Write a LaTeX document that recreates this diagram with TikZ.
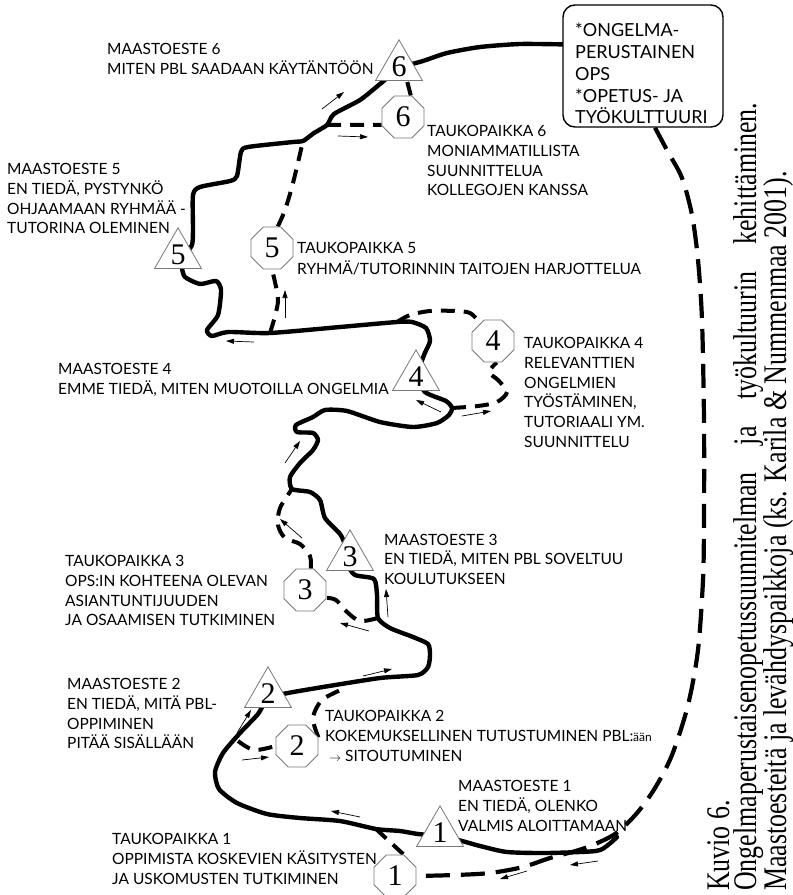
\documentclass[tikz,border=0pt]{standalone}
\usepackage{fontspec}
\setmainfont{Lato}
\newfontfamily\labfont{Lato}
\newfontfamily\capfont[FakeStretch=0.785]{Liberation Serif}
\newfontfamily\numfont{Liberation Serif}
\usetikzlibrary{shapes.geometric,arrows.meta,backgrounds,calc}
\definecolor{signgray}{RGB}{120,120,120}
\newcommand\dirarr[3]{\coordinate (#1s) at #2; \coordinate (#1e) at #3; \draw[arr] (#1s) -- (#1e);}
\begin{document}
\begin{tikzpicture}[x=1pt,y=-1pt,
  tri/.style={regular polygon, regular polygon sides=3, minimum size=54.3pt, inner sep=0pt, draw=signgray, line width=0.8pt, fill=white},
  oct/.style={regular polygon, regular polygon sides=8, minimum size=45.5pt, inner sep=0pt, draw=signgray, line width=0.8pt, fill=white},
  num/.style={font=\numfont\fontsize{30}{30}\selectfont, inner sep=0pt},
  route/.style={line width=4.4pt, line cap=round, line join=round},
  dashroute/.style={line width=4.2pt, dash pattern=on 24pt off 11pt},
  detour/.style={line width=4pt, dash pattern=on 14pt off 9pt},
  arr/.style={line width=0.7pt, -{Triangle[length=8pt,width=5pt]}},
  lab/.style={font=\labfont\fontsize{15.5}{19.8}\selectfont, align=left, anchor=north west, inner sep=0pt},
  capstyle/.style={rotate=90, anchor=base west, inner sep=0pt, font=\capfont\fontsize{33}{33}\selectfont}
]
\useasboundingbox (0,0) rectangle (793,895);

% goal box
\node[draw, line width=1.4pt, rounded corners=12pt, minimum width=160pt, minimum height=122pt, fill=white] (goal) at (643,66) {};
\node[font=\fontsize{18}{21.75}\selectfont, align=left, anchor=north west, inner sep=0pt] (goaltext) at (575,23) {*ONGELMA-\\PERUSTAINEN\\OPS\\*OPETUS- JA\\TYÖKULTTUURI};

% obstacles (triangles)
\node[tri, label={[num]center:6}] (t6) at (399,67) {};
\node[tri, label={[num]center:5}] (t5) at (178,255) {};
\node[tri, label={[num]center:4}] (t4) at (416,377) {};
\node[tri, label={[num]center:3}] (t3) at (350,557) {};
\node[tri, label={[num]center:2}] (t2) at (268,694) {};
\node[tri, label={[num]center:1}] (t1) at (440,833) {};

% rest stops (octagons)
\node[oct, label={[num]center:6}] (o6) at (403,117) {};
\node[oct, label={[num]center:5}] (o5) at (272,248) {};
\node[oct, label={[num]center:4}] (o4) at (493,341) {};
\node[oct, label={[num]center:3}] (o3) at (305,590) {};
\node[oct, label={[num]center:2}] (o2) at (297,746) {};
\node[oct, label={[num]center:1}] (o1) at (395,876) {};

% junctions on the route
\coordinate (start) at (617,837);
\coordinate (j1) at (376,829);
\coordinate (j2a) at (238,741);
\coordinate (j2b) at (343,689);
\coordinate (j3a) at (378,618);
\coordinate (j3b) at (292,489);
\coordinate (j4a) at (452,408);
\coordinate (j4b) at (397,322);
\coordinate (j5a) at (270,333);
\coordinate (j5b) at (303,141);
\coordinate (j6a) at (327,125);

\begin{scope}[on background layer]
% main route
\draw[route] plot[smooth, tension=0.4] coordinates {
 (start) (608,845) (596,851) (547,853) (507,852) (480,846) (462,841) (440,836) (418,834) (400,831) (j1)
 (340,821) (300,818) (267,814) (237,803) (219,789) (215,772) (223,753) (240,733) (258,714) (268,698)
 (288,693) (323,687) (380,678) (418,675) (428,667) (430,655) (428,644) (413,637) (390,628) (j3a)
 (377,595) (374,579) (355,575) (348,565) (345,545) (340,534) (325,518) (320,500) (310,492) (j3b)
 (290,477) (300,463) (313,450) (318,440) (313,433) (297,432) (296,425) (313,417) (325,410) (347,411)
 (380,422) (413,427) (437,423) (449,415) (j4a) (446,401) (425,392) (418,375) (424,355) (430,341)
 (426,328) (412,322) (j4b) (340,327) (j5a) (228,332) (212,336) (207,330) (218,315) (221,290)
 (216,281) (200,284) (185,277) (182,267) (185,255) (192,245) (193,230) (193,195) (200,187) (230,181)
 (237,176) (241,152) (248,147) (293,142) (j5b) (314,133) (j6a) (334,114) (360,100) (380,84)
 (400,68) (423,61) (447,53) (480,47) (520,44) (goal.165)};
% dashed way
\draw[dashroute] plot[smooth, tension=0.5] coordinates {(goal.-79) (668,152) (682,178) (692,215) (698,260) (702,320) (704,420) (704,520) (703,580) (698,650) (688,705) (672,755) (655,788) (637,813) (615,834) (585,848) (550,858) (523,867) (490,873) (455,875) (o1.east)};
% detours to rest stops
\draw[detour] (j1) -- (o1.60);
\draw[detour] plot[smooth] coordinates {(j2a) (254,750) (o2.west)};
\draw[detour] plot[smooth] coordinates {(o2.22) (313,718) (322,700) (j2b)};
\draw[detour] plot[smooth] coordinates {(j3a) (360,621) (347,612) (336,600) (o3.-20)};
\draw[detour] plot[smooth] coordinates {(o3.75) (310,556) (300,544) (285,538) (278,525) (280,508) (j3b)};
\draw[detour] plot[smooth] coordinates {(j4a) (478,406) (497,402) (507,392) (498,380) (489,372) (o4.-80)};
\draw[detour] plot[smooth] coordinates {(j4b) (410,315) (430,311) (455,311) (470,313) (o4.125)};
\draw[detour] plot[smooth] coordinates {(j5a) (275,316) (278,298) (o5.south)};
\draw[detour] plot[smooth] coordinates {(o5.75) (285,210) (293,183) (j5b)};
\draw[detour] (j6a) -- (o6.200);
\draw[detour] (o6.70) -- (t6.-60);
\end{scope}

% direction arrows
\dirarr{a1}{(322,109)}{(344,92)}
\dirarr{a2}{(338,136)}{(368,137)}
\dirarr{a3}{(285,318)}{(285,290)}
\dirarr{a4}{(254,342)}{(226,341)}
\dirarr{a5}{(441,412)}{(416,400)}
\dirarr{a6}{(462,416)}{(491,411)}
\dirarr{a7}{(285,463)}{(300,441)}
\dirarr{a8}{(302,538)}{(280,519)}
\dirarr{a9}{(388,617)}{(386,589)}
\dirarr{a10}{(369,631)}{(340,623)}
\dirarr{a11}{(363,676)}{(392,669)}
\dirarr{a12}{(237,733)}{(251,710)}
\dirarr{a13}{(242,760)}{(269,757)}
\dirarr{a14}{(360,817)}{(331,811)}
\dirarr{a15}{(527,871)}{(500,879)}
\dirarr{a16}{(598,861)}{(570,865)}

% labels
\node[lab] (m6) at (107,43) {MAASTOESTE 6\\MITEN PBL SAADAAN KÄYTÄNTÖÖN};
\node[lab] (m5) at (7,163) {MAASTOESTE 5\\EN TIEDÄ, PYSTYNKÖ\\OHJAAMAAN RYHMÄÄ -\\TUTORINA OLEMINEN};
\node[lab] (p6) at (427,125) {TAUKOPAIKKA 6\\MONIAMMATILLISTA\\SUUNNITTELUA\\KOLLEGOJEN KANSSA};
\node[lab, font=\labfont\fontsize{15.5}{21}\selectfont] (p5) at (297,242) {TAUKOPAIKKA 5\\RYHMÄ/TUTORINNIN TAITOJEN HARJOTTELUA};
\node[lab] (m4) at (58,363) {MAASTOESTE 4\\EMME TIEDÄ, MITEN MUOTOILLA ONGELMIA};
\node[lab] (p4) at (524,337) {TAUKOPAIKKA 4\\RELEVANTTIEN\\ONGELMIEN\\TYÖSTÄMINEN,\\TUTORIAALI YM.\\SUUNNITTELU};
\node[lab, font=\labfont\fontsize{15.5}{19.5}\selectfont] (m3) at (384,534) {MAASTOESTE 3\\EN TIEDÄ, MITEN PBL SOVELTUU\\KOULUTUKSEEN};
\node[lab] (p3) at (65,555) {TAUKOPAIKKA 3\\OPS:IN KOHTEENA OLEVAN\\ASIANTUNTIJUUDEN\\JA OSAAMISEN TUTKIMINEN};
\node[lab] (m2) at (67,678) {MAASTOESTE 2\\EN TIEDÄ, MITÄ PBL-\\OPPIMINEN\\PITÄÄ SISÄLLÄÄN};
\node[lab] (p2) at (325,710) {TAUKOPAIKKA 2\\KOKEMUKSELLINEN TUTUSTUMINEN PBL:{\fontsize{12}{12}\selectfont ään}\\\hspace*{4pt}{\fontsize{12}{12}\selectfont$\rightarrow$}\hspace{4pt}SITOUTUMINEN};
\node[lab] (m1) at (458,780) {MAASTOESTE 1\\EN TIEDÄ, OLENKO\\VALMIS ALOITTAMAAN};
\node[lab] (p1) at (112,833) {TAUKOPAIKKA 1\\OPPIMISTA KOSKEVIEN KÄSITYSTEN\\JA USKOMUSTEN TUTKIMINEN};

% caption
\node[capstyle] (cap1) at (729,891) {Kuvio 6.};
\node[capstyle] (cap2) at (756,891) {\makebox[788pt][s]{Ongelmaperustaisenopetussuunnitelman ja työkultuurin kehittäminen.}};
\node[capstyle] (cap3) at (786,891) {Maastoesteitä ja levähdyspaikkoja (ks. Karila \& Nummenmaa 2001).};
\end{tikzpicture}
\end{document}
